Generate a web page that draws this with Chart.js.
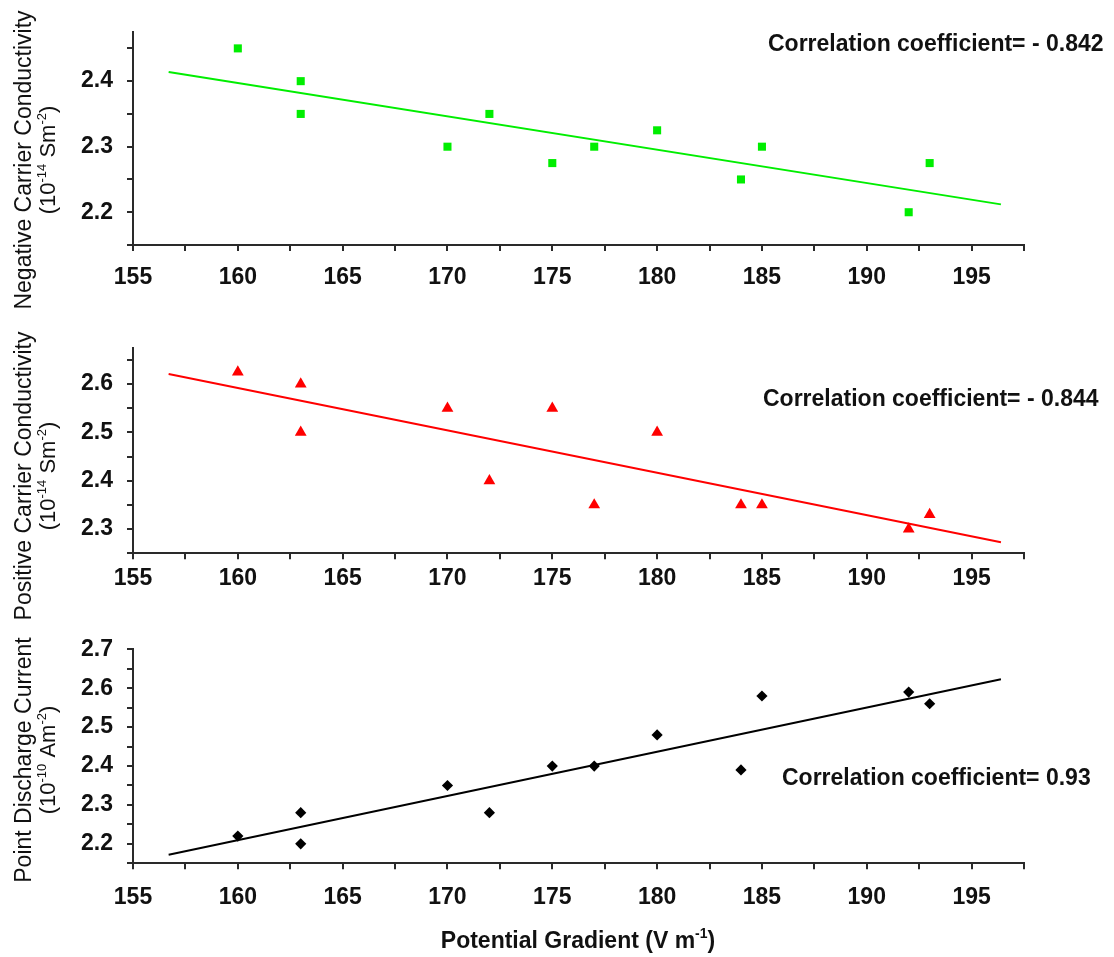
<!DOCTYPE html>
<html>
<head>
<meta charset="utf-8">
<script src="https://cdn.jsdelivr.net/npm/chart.js@4.4.1/dist/chart.umd.min.js"></script>
<style>
  body { margin: 0; background: #fff; }
  #wrap { position: relative; width: 1114px; height: 957px; }
  canvas { position: absolute; left: 0; }
</style>
</head>
<body>
<div id="wrap">
  <canvas id="negChart" width="1114" height="320" style="top:0"></canvas>
  <canvas id="posChart" width="1114" height="300" style="top:320px"></canvas>
  <canvas id="pdcChart" width="1114" height="337" style="top:620px"></canvas>
</div>
<script>
// potential gradient (V m^-1) for each observation
const potGrad = [160, 163, 163, 170, 172, 175, 177, 180, 184, 185, 192, 193];
const negCond = [2.45, 2.40, 2.35, 2.30, 2.35, 2.275, 2.30, 2.325, 2.25, 2.30, 2.20, 2.275];
const posCond = [2.625, 2.60, 2.50, 2.55, 2.40, 2.55, 2.35, 2.50, 2.35, 2.35, 2.30, 2.33];
const pdcVals = [2.22, 2.28, 2.20, 2.35, 2.28, 2.40, 2.40, 2.48, 2.39, 2.58, 2.59, 2.56];

// regression line end points
const fitX = [156.7, 196.4];
const negFitY = [2.414, 2.212];
const posFitY = [2.621, 2.273];
const pdcFitY = [2.172, 2.623];

const xTicks = [155, 157.5, 160, 162.5, 165, 167.5, 170, 172.5, 175, 177.5, 180, 182.5, 185, 187.5, 190, 192.5, 195, 197.5];
const xLabels = ['155', '', '160', '', '165', '', '170', '', '175', '', '180', '', '185', '', '190', '', '195', ''];

const negTicks = [2.15, 2.2, 2.25, 2.3, 2.35, 2.4, 2.45];
const negLabels = ['', '2.2', '', '2.3', '', '2.4', ''];
const posTicks = [2.25, 2.3, 2.35, 2.4, 2.45, 2.5, 2.55, 2.6, 2.65];
const posLabels = ['', '2.3', '', '2.4', '', '2.5', '', '2.6', ''];
const pdcTicks = [2.15, 2.2, 2.25, 2.3, 2.35, 2.4, 2.45, 2.5, 2.55, 2.6, 2.65, 2.7];
const pdcLabels = ['', '2.2', '', '2.3', '', '2.4', '', '2.5', '', '2.6', '', '2.7'];

const FONT = '"Liberation Sans", Arial, sans-serif';
const AXIS = '#2a2a2a';

// draws text pieces, some as superscript
function drawParts(ctx, parts, x, y, size, weight, align, rotate) {
  ctx.save();
  ctx.translate(x, y);
  if (rotate) ctx.rotate(-Math.PI / 2);
  ctx.fillStyle = '#111';
  ctx.textBaseline = 'alphabetic';
  ctx.textAlign = 'left';
  const pieces = parts.map(p => {
    const s = p[1] ? Math.round(size * 0.6) : size;
    ctx.font = `${weight} ${s}px ${FONT}`;
    return { t: p[0], sup: p[1], s, w: ctx.measureText(p[0]).width };
  });
  const total = pieces.reduce((a, p) => a + p.w, 0);
  let cx = align === 'center' ? -total / 2 : 0;
  pieces.forEach(p => {
    ctx.font = `${weight} ${p.s}px ${FONT}`;
    ctx.fillText(p.t, cx, p.sup ? -size * 0.42 : 0);
    cx += p.w;
  });
  ctx.restore();
}

const notesPlugin = {
  id: 'notes',
  afterDraw(chart) {
    const notes = chart.options.plugins.notes || [];
    notes.forEach(n => drawParts(chart.ctx, n.parts, n.x, n.y, n.size, n.weight, n.align, n.rotate));
  }
};

function makeChart(id, opts) {
  const points = potGrad.map((x, i) => ({ x, y: opts.values[i] }));
  const fit = fitX.map((x, i) => ({ x, y: opts.fit[i] }));
  return new Chart(document.getElementById(id), {
    type: 'scatter',
    data: {
      datasets: [{
        data: points,
        pointStyle: opts.marker,
        pointRadius: opts.radius,
        backgroundColor: opts.color,
        borderColor: opts.color,
        borderWidth: 0
      }, {
        data: fit,
        showLine: true,
        pointRadius: 0,
        borderColor: opts.color,
        borderWidth: 2,
        fill: false
      }]
    },
    options: {
      responsive: false,
      animation: false,
      events: [],
      layout: { padding: { top: opts.padTop, right: 90, left: 0, bottom: 0 } },
      plugins: {
        legend: { display: false },
        tooltip: { enabled: false },
        notes: opts.notes
      },
      scales: {
        x: {
          type: 'linear',
          min: 155,
          max: 197.5,
          afterBuildTicks: s => { s.ticks = xTicks.map(v => ({ value: v })); },
          afterFit: s => { s.height = opts.xHeight; },
          ticks: {
            autoSkip: false,
            maxRotation: 0,
            padding: opts.xPad,
            color: '#111',
            font: { family: FONT, size: 23, weight: 'bold' },
            callback: (v, i) => xLabels[i]
          },
          grid: { drawOnChartArea: false, drawTicks: true, tickLength: 6, color: AXIS, lineWidth: 2 },
          border: { display: true, color: AXIS, width: 2 }
        },
        y: {
          type: 'linear',
          min: opts.min,
          max: opts.max,
          afterBuildTicks: s => { s.ticks = opts.ticks.map(v => ({ value: v })); },
          afterFit: s => { s.width = 133; },
          ticks: {
            autoSkip: false,
            padding: 14,
            color: '#111',
            font: { family: FONT, size: 23, weight: 'bold' },
            callback: (v, i) => opts.labels[i]
          },
          grid: { drawOnChartArea: false, drawTicks: true, tickLength: 6, color: AXIS, lineWidth: 2 },
          border: { display: true, color: AXIS, width: 2 }
        }
      }
    },
    plugins: [notesPlugin]
  });
}

makeChart('negChart', {
  values: negCond, fit: negFitY, color: '#00ee00', marker: 'rect', radius: 5.7,
  min: 2.15, max: 2.475, ticks: negTicks, labels: negLabels,
  padTop: 32, xHeight: 75, xPad: 13,
  notes: [
    { parts: [['Negative Carrier Conductivity', false]], x: 31, y: 160, size: 23, weight: 'normal', align: 'center', rotate: true },
    { parts: [['(10', false], ['-14', true], [' Sm', false], ['-2', true], [')', false]], x: 55, y: 160, size: 22, weight: 'normal', align: 'center', rotate: true },
    { parts: [['Correlation coefficient= - 0.842', false]], x: 768, y: 51, size: 23, weight: 'bold', align: 'left' }
  ]
});

makeChart('posChart', {
  values: posCond, fit: posFitY, color: '#ff0000', marker: 'triangle', radius: 6.8,
  min: 2.25, max: 2.675, ticks: posTicks, labels: posLabels,
  padTop: 21.7, xHeight: 66.7, xPad: 6,
  notes: [
    { parts: [['Positive Carrier Conductivity', false]], x: 31, y: 156, size: 23, weight: 'normal', align: 'center', rotate: true },
    { parts: [['(10', false], ['-14', true], [' Sm', false], ['-2', true], [')', false]], x: 55, y: 156, size: 22, weight: 'normal', align: 'center', rotate: true },
    { parts: [['Correlation coefficient= - 0.844', false]], x: 763, y: 86, size: 23, weight: 'bold', align: 'left' }
  ]
});

makeChart('pdcChart', {
  values: pdcVals, fit: pdcFitY, color: '#000000', marker: 'rectRot', radius: 5.6,
  min: 2.15, max: 2.7, ticks: pdcTicks, labels: pdcLabels,
  padTop: 29.3, xHeight: 93.7, xPad: 15,
  notes: [
    { parts: [['Point Discharge Current', false]], x: 31, y: 140, size: 23, weight: 'normal', align: 'center', rotate: true },
    { parts: [['(10', false], ['-10', true], [' Am', false], ['-2', true], [')', false]], x: 55, y: 140, size: 22, weight: 'normal', align: 'center', rotate: true },
    { parts: [['Correlation coefficient= 0.93', false]], x: 782, y: 165, size: 23, weight: 'bold', align: 'left' },
    { parts: [['Potential Gradient (V m', false], ['-1', true], [')', false]], x: 578, y: 328, size: 23, weight: 'bold', align: 'center' }
  ]
});
</script>
</body>
</html>
